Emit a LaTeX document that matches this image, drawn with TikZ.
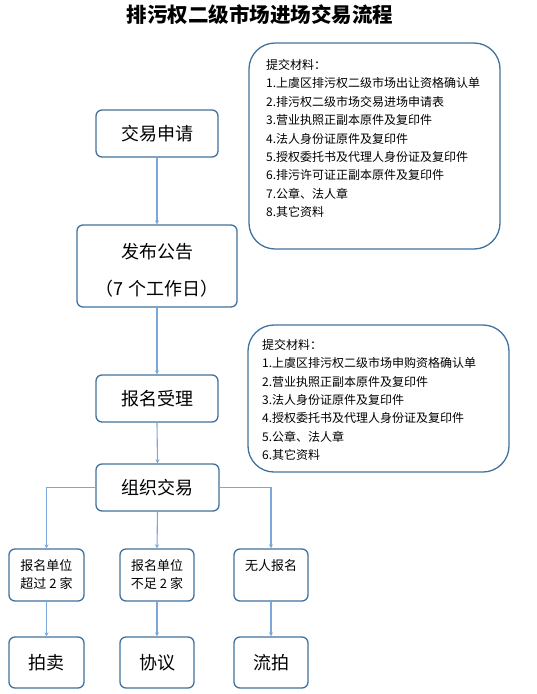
\documentclass[tikz,border=0pt]{standalone}
\usepackage{fontspec}
\setmainfont{Noto Sans CJK SC}
\newfontfamily\cjk{Noto Sans CJK SC}
\usetikzlibrary{arrows.meta}
\definecolor{boxline}{HTML}{41719C}
\definecolor{arrline}{HTML}{7BA7D9}
\tikzset{
  stepbox/.style={draw=boxline, line width=1.3pt, rounded corners=6pt, inner sep=0pt, fill=white},
  bigbox/.style={draw=boxline, line width=1.3pt, rounded corners=26pt, inner sep=0pt},
  conn/.style={draw=arrline, line width=1.1pt, -{Stealth[length=4pt,width=4pt]}},
  big/.style={font=\fontsize{18}{22}\selectfont},
  mid/.style={font=\fontsize{13}{18}\selectfont, align=center},
  lst/.style={font=\fontsize{12}{14}\selectfont, anchor=west, inner sep=0pt},
}
\begin{document}
\begin{tikzpicture}[x=1pt,y=-1pt]
\useasboundingbox (0,0) rectangle (536,694);
\node[font=\fontsize{20.5}{24}\selectfont\bfseries] (title) at (260,15) {排污权二级市场进场交易流程};

% main flow
\node[stepbox, minimum width=122pt, minimum height=47pt, big] (apply) at (157,133.5) {交易申请};
\node[stepbox, minimum width=160pt, minimum height=82pt] (pub) at (157,266) {};
\node[big] (pub1) at (157,252) {发布公告};
\node[big] (pub2) at (157,289) {（7 个工作日）};
\node[stepbox, minimum width=122pt, minimum height=47pt, big] (reg) at (157,398.5) {报名受理};
\node[stepbox, minimum width=123pt, minimum height=47pt, big] (org) at (157.5,487.5) {组织交易};

% right info boxes
\node[bigbox, minimum width=251pt, minimum height=206pt] (info1) at (374.5,146) {};
\foreach \t [count=\i] in {提交材料：,1.上虞区排污权二级市场出让资格确认单,2.排污权二级市场交易进场申请表,3.营业执照正副本原件及复印件,4.法人身份证原件及复印件,5.授权委托书及代理人身份证及复印件,6.排污许可证正副本原件及复印件,7.公章、法人章,8.其它资料}
  \node[lst] (ia\i) at (266,{65+18.4*(\i-1)}) {\t};

\node[bigbox, minimum width=261pt, minimum height=147pt] (info2) at (378.5,398.5) {};
\foreach \t [count=\i] in {提交材料：,1.上虞区排污权二级市场申购资格确认单,2.营业执照正副本原件及复印件,3.法人身份证原件及复印件,4.授权委托书及代理人身份证及复印件,5.公章、法人章,6.其它资料}
  \node[lst] (ib\i) at (262,{345+18.3*(\i-1)}) {\t};

% branches
\node[stepbox, minimum width=75pt, minimum height=52pt] (c1) at (46.5,575) {};
\node[mid] (c1t) at (46.5,575) {报名单位\\超过 2 家};
\node[stepbox, minimum width=74pt, minimum height=52pt] (c2) at (157,575) {};
\node[mid] (c2t) at (157,575) {报名单位\\不足 2 家};
\node[stepbox, minimum width=74pt, minimum height=52pt] (c3) at (271,575) {};
\node[mid, anchor=center] (c3t) at (271,566) {无人报名};

\node[stepbox, minimum width=75pt, minimum height=51pt, big] (r1) at (46.5,662.5) {拍卖};
\node[stepbox, minimum width=74pt, minimum height=51pt, big] (r2) at (157,662.5) {协议};
\node[stepbox, minimum width=74pt, minimum height=51pt, big] (r3) at (271,662.5) {流拍};

% connectors
\draw[conn] (apply.south) -- (pub.north);
\draw[conn] (pub.south) -- (reg.north);
\draw[conn] (reg.south) -- (org.north);
\draw[conn] (org.west) -| (c1.north);
\draw[conn] (org.south) -- (c2.north);
\draw[conn] (org.east) -| (c3.north);
\draw[conn] (c1.south) -- (r1.north);
\draw[conn] (c2.south) -- (r2.north);
\draw[conn] (c3.south) -- (r3.north);
\end{tikzpicture}
\end{document}
